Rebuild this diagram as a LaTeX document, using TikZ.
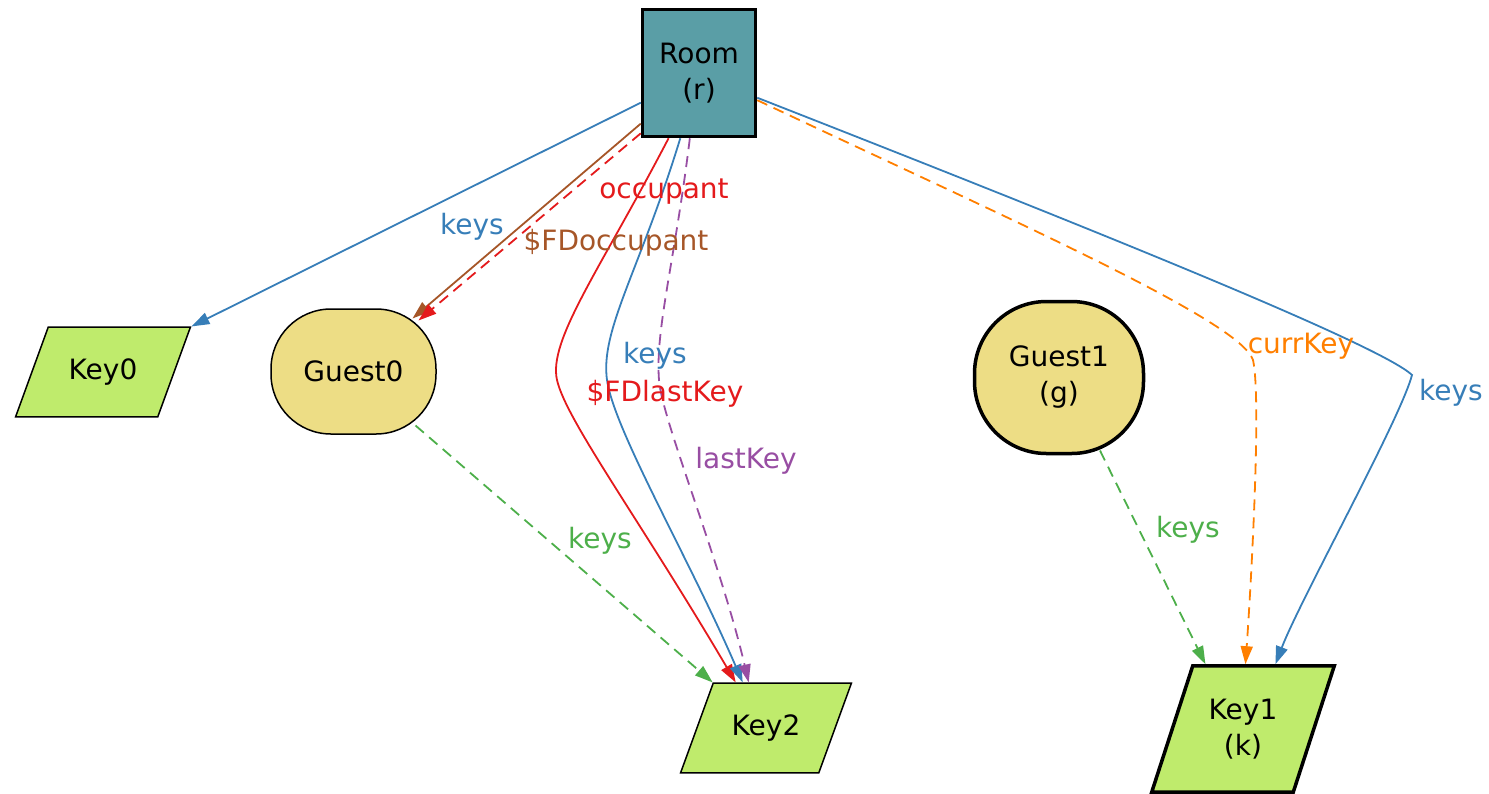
\documentclass[tikz,border=0pt]{standalone}
\usepackage{fontspec}
\setmainfont{DejaVu Sans}
\usepackage{xcolor}
\usetikzlibrary{positioning,arrows.meta,shapes.geometric}
\definecolor{setred}{HTML}{E41A1C}
\definecolor{setblue}{HTML}{377EB8}
\definecolor{setgreen}{HTML}{4DAF4A}
\definecolor{setpurple}{HTML}{984EA3}
\definecolor{setorange}{HTML}{FF7F00}
\definecolor{setbrown}{HTML}{A65628}
\definecolor{roomfill}{HTML}{5A9EA6}
\definecolor{keyfill}{HTML}{BFEB6C}
\definecolor{guestfill}{HTML}{EDDD85}

\begin{document}
\begin{tikzpicture}[
    x=1pt,y=-1pt,
    font=\fontsize{28}{36}\selectfont,
    roombox/.style={rectangle,draw=black,line width=3.5pt,fill=roomfill,minimum width=113pt,minimum height=127pt,align=center,inner sep=0pt},
    keybox/.style={trapezium,trapezium left angle=70,trapezium right angle=110,draw=black,line width=1.5pt,fill=keyfill,align=center,inner xsep=20pt,inner ysep=31.5pt},
    guestbox/.style={rectangle,rounded corners=60pt,draw=black,line width=1.5pt,fill=guestfill,align=center,inner sep=0pt},
    heavy/.style={line width=3.5pt},
    arrow/.style={-{Triangle[length=18pt,width=12pt]},line width=1.8pt},
    dashedge/.style={dash pattern=on 11pt off 7pt},
    lbl/.style={inner sep=0pt}
]
\useasboundingbox (0,0) rectangle (1489,793);

\node[roombox] (room) at (699,73) {Room\\(r)};
\node[keybox,inner xsep=20.5pt] (key0) at (103,372) {Key0};
\node[guestbox,minimum width=165pt,minimum height=125pt] (guest0) at (353.5,371.5) {Guest0};
\node[guestbox,heavy,rounded corners=72pt,minimum width=169pt,minimum height=152pt] (guest1) at (1059,377.5) {Guest1\\(g)};
\node[keybox,inner xsep=18.5pt] (key2) at (766,728) {Key2};
\node[keybox,heavy,trapezium left angle=72,trapezium right angle=108,inner xsep=16pt,inner ysep=33pt] (key1) at (1243,729) {Key1\\(k)};

\draw[arrow,setblue] (room.207) -- (key0.top right corner);
\draw[arrow,setbrown] (room.221) -- ([xshift=59pt,yshift=53pt]guest0.center);
\draw[arrow,setred,dashedge] (room.226) -- ([xshift=65pt,yshift=51pt]guest0.center);
\draw[arrow,setred] (room.245) .. controls (600,270) and (548,340) .. (557,380)
    .. controls (566,420) and (640,520) .. ([xshift=23pt]key2.top left corner);
\draw[arrow,setblue] (room.254) .. controls (640,270) and (600,330) .. (607,380)
    .. controls (614,430) and (690,560) .. ([xshift=30pt]key2.top left corner);
\draw[arrow,setpurple,dashedge] (room.262) .. controls (675,260) and (655,330) .. (659,380)
    .. controls (662,420) and (720,560) .. ([xshift=36pt]key2.top left corner);
\draw[arrow,setgreen,dashedge] ([xshift=62pt,yshift=-54pt]guest0.center) -- (key2.top left corner);
\draw[arrow,setorange,dashedge] (room.335) .. controls (1000,215) and (1240,320) .. (1253,360)
    .. controls (1262,400) and (1250,600) .. ([xshift=54pt]key1.top left corner);
\draw[arrow,setblue] (room.337) .. controls (1100,232) and (1380,345) .. (1412,375)
    .. controls (1400,420) and (1300,600) .. ([xshift=84pt]key1.top left corner);
\draw[arrow,setgreen,dashedge] ([xshift=41pt,yshift=-73pt]guest1.center) -- ([xshift=14pt]key1.top left corner);

\node[lbl,text=setblue] (lkeys0) at (472,227) {keys};
\node[lbl,text=setred] (locc) at (664,192) {occupant};
\node[lbl,text=setbrown] (lfdocc) at (616,243) {\$FDoccupant};
\node[lbl,text=setblue] (lkeys2) at (655,356) {keys};
\node[lbl,text=setred] (lfdlast) at (665,394) {\$FDlastKey};
\node[lbl,text=setpurple] (llast) at (746,461) {lastKey};
\node[lbl,text=setgreen] (lgkeys0) at (600,541) {keys};
\node[lbl,text=setorange] (lcurr) at (1301,346) {currKey};
\node[lbl,text=setblue] (lkeys1) at (1451,393) {keys};
\node[lbl,text=setgreen] (lgkeys1) at (1188,530) {keys};

\end{tikzpicture}
\end{document}
